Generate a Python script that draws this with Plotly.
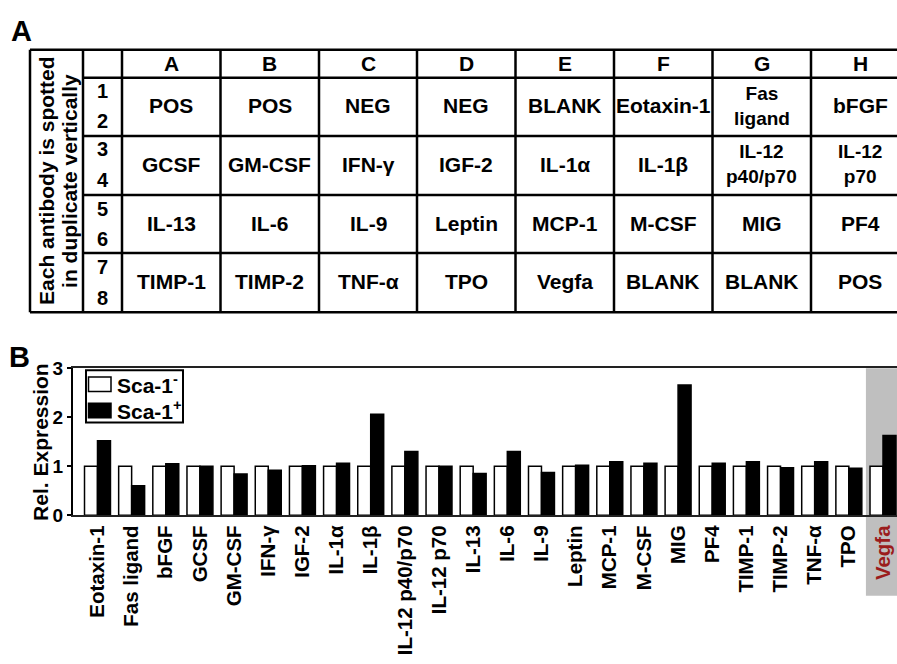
import plotly.graph_objects as go

# ---------------- data ----------------
cytokines = ["Eotaxin-1", "Fas ligand", "bFGF", "GCSF", "GM-CSF", "IFN-γ", "IGF-2",
             "IL-1α", "IL-1β", "IL-12 p40/p70", "IL-12 p70", "IL-13", "IL-6", "IL-9",
             "Leptin", "MCP-1", "M-CSF", "MIG", "PF4", "TIMP-1", "TIMP-2", "TNF-α",
             "TPO", "Vegfa"]
sca1_neg = [1.0, 1.0, 1.0, 1.0, 1.0, 1.0, 1.0, 1.0, 1.0, 1.0, 1.0, 1.0,
            1.0, 1.0, 1.0, 1.0, 1.0, 1.0, 1.0, 1.0, 1.0, 1.0, 1.0, 1.0]
sca1_pos = [1.52, 0.60, 1.05, 1.00, 0.84, 0.92, 1.01, 1.06, 2.06, 1.30, 1.00, 0.85,
            1.30, 0.87, 1.02, 1.09, 1.06, 2.66, 1.06, 1.09, 0.97, 1.09, 0.96, 1.63]
highlight = "Vegfa"
y_ticks = [0, 1, 2, 3]

# array map (panel A)
array_cols = ["A", "B", "C", "D", "E", "F", "G", "H"]
array_rows = [["1", "2"], ["3", "4"], ["5", "6"], ["7", "8"]]
array_cells = [
    ["POS", "POS", "NEG", "NEG", "BLANK", "Eotaxin-1", "Fas\nligand", "bFGF"],
    ["GCSF", "GM-CSF", "IFN-γ", "IGF-2", "IL-1α", "IL-1β", "IL-12\np40/p70", "IL-12\np70"],
    ["IL-13", "IL-6", "IL-9", "Leptin", "MCP-1", "M-CSF", "MIG", "PF4"],
    ["TIMP-1", "TIMP-2", "TNF-α", "TPO", "Vegfa", "BLANK", "BLANK", "POS"],
]
side_note = ["Each antibody is spotted", "in duplicate vertically"]

# ---------------- page geometry ----------------
W, H = 897, 664
FONT = "Arial, Liberation Sans, Helvetica, sans-serif"
HL_RED = "#9b1c1c"


def px(x):
    return x / W


def py(y):
    return 1 - y / H


def bold(size, color="black"):
    return dict(family=FONT, size=size, color=color, weight="bold")


fig = go.Figure()

# ---------------- panel B: bars ----------------
fig.add_trace(go.Bar(x=cytokines, y=sca1_neg, name="Sca-1-",
                     marker=dict(color="white", line=dict(color="black", width=1.5))))
fig.add_trace(go.Bar(x=cytokines, y=sca1_pos, name="Sca-1+",
                     marker=dict(color="black", line=dict(color="black", width=1.5))))

tick_text = [f"<span style='color:{HL_RED}'>{c}</span>" if c == highlight else c
             for c in cytokines]

hi = cytokines.index(highlight)
shapes = [
    # grey band behind the highlighted cytokine and its label
    dict(type="rect", xref="x", yref="paper", x0=hi - 0.5, x1=hi + 1.5,
         y0=py(605), y1=py(370), fillcolor="#bfbfbf", line=dict(width=0), layer="below"),
]

annotations = []


def label(x, y, text, size=21, angle=0, xanchor="center", color="black"):
    annotations.append(dict(xref="paper", yref="paper", x=px(x), y=py(y),
                            xanchor=xanchor, yanchor="middle", showarrow=False,
                            text=text, textangle=angle, font=bold(size, color)))


# legend box drawn by hand (large swatches)
shapes.append(dict(type="rect", xref="paper", yref="paper", x0=px(86), x1=px(183),
                   y0=py(426), y1=py(372), line=dict(color="black", width=2),
                   fillcolor="white"))
for (top, bot), fill, name in [((379, 394), "white", "Sca-1<sup>-</sup>"),
                               ((406, 421), "black", "Sca-1<sup>+</sup>")]:
    shapes.append(dict(type="rect", xref="paper", yref="paper", x0=px(88.5), x1=px(111),
                       y0=py(bot), y1=py(top), line=dict(color="black", width=1.5),
                       fillcolor=fill))
    label(115, (top + bot) / 2, name, xanchor="left")

# y axis title
label(41, 446, "Rel. Expression", angle=-90)

# panel letters
label(21, 22, "A", size=29)
label(19, 358, "B", size=29)

# ---------------- panel A: array map table ----------------
LW = 2.5
t_left, t_note, t_num, t_right = 30, 83, 122, 909
col_edges = [122, 220.5, 319, 417, 515.5, 614, 712.5, 811, 909]
row_edges = [41, 70, 130, 191, 251, 312]


def hline(y, x0, x1):
    shapes.append(dict(type="line", xref="paper", yref="paper", x0=px(x0), x1=px(x1),
                       y0=py(y), y1=py(y), line=dict(color="black", width=LW)))


def vline(x, y0, y1):
    shapes.append(dict(type="line", xref="paper", yref="paper", x0=px(x), x1=px(x),
                       y0=py(y0), y1=py(y1), line=dict(color="black", width=LW)))


hline(row_edges[0], t_left, t_right)
hline(row_edges[-1], t_left, t_right)
for y in row_edges[1:-1]:
    hline(y, t_note, t_right)
vline(t_left, row_edges[0], row_edges[-1])
vline(t_note, row_edges[0], row_edges[-1])
for x in col_edges:
    vline(x, row_edges[0], row_edges[-1])

# vertical note
for i, line in enumerate(side_note):
    label(47 + 23 * i, (row_edges[0] + row_edges[-1]) / 2, line, angle=-90)

# column headers
for j, c in enumerate(array_cols):
    label((col_edges[j] + col_edges[j + 1]) / 2, (row_edges[0] + row_edges[1]) / 2, c)

# row numbers + cell labels
for i, (n1, n2) in enumerate(array_rows):
    top, bot = row_edges[i + 1], row_edges[i + 2]
    label((t_num + t_note) / 2, top + 14, n1, size=20)
    label((t_num + t_note) / 2, bot - 15, n2, size=20)
    cy = (top + bot) / 2 - 1
    for j, txt in enumerate(array_cells[i]):
        cx = (col_edges[j] + col_edges[j + 1]) / 2
        if "\n" in txt:
            label(cx, cy, txt.replace("\n", "<br>"), size=19)
        else:
            label(cx, cy, txt)

# ---------------- layout ----------------
fig.update_layout(
    width=W, height=H,
    margin=dict(l=0, r=0, t=0, b=0),
    paper_bgcolor="white", plot_bgcolor="rgba(0,0,0,0)",
    barmode="group", bargap=0.24, bargroupgap=0.0,
    showlegend=False,
    shapes=shapes, annotations=annotations,
    font=dict(family=FONT, color="black"),
    xaxis=dict(domain=[px(73), 1.0], range=[-0.717, 23.41],
               tickmode="array", tickvals=cytokines, ticktext=tick_text,
               tickangle=-90, ticks="", showgrid=False, zeroline=False,
               showline=True, linecolor="#222", linewidth=2, mirror=True,
               tickfont=bold(20.5)),
    yaxis=dict(domain=[py(521.7), py(370)], range=[0, 3],
               tickmode="array", tickvals=y_ticks, ticks="outside", ticklen=4,
               tickwidth=1.5, tickcolor="black", showgrid=False, zeroline=False,
               showline=True, linecolor="black", linewidth=2,
               tickfont=bold(19)),
)

fig.write_html("out.html")
